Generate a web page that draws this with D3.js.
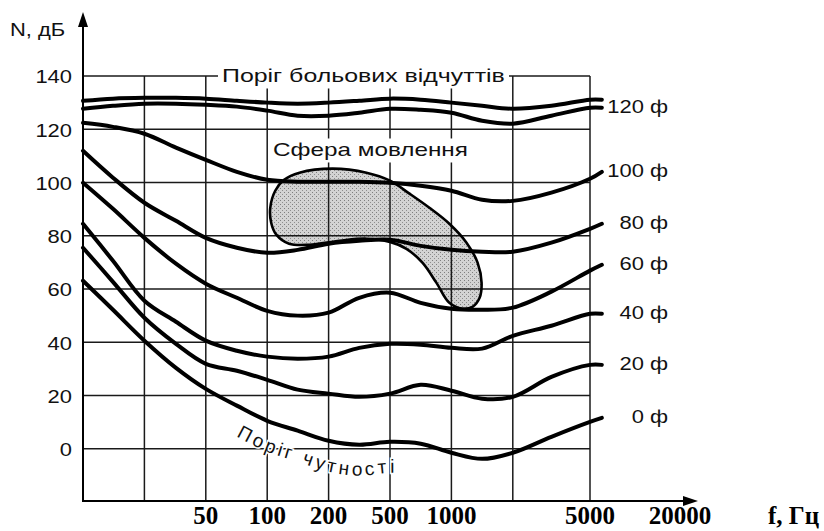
<!DOCTYPE html>
<html>
<head>
<meta charset="utf-8">
<script src="https://cdn.jsdelivr.net/npm/d3@7"></script>
<style>
  body { margin: 0; background: #fff; }
  svg { display: block; }
  .sans { font-family: "Liberation Sans", Arial, sans-serif; fill: #111; }
  .serif { font-family: "Liberation Serif", "Times New Roman", serif; font-weight: bold; fill: #000; }
</style>
</head>
<body>
<svg id="chart" width="824" height="531"></svg>
<script>
const freqs = [20, 25, 31.6, 40, 50, 71, 100, 141, 200, 316, 500, 707, 1000, 1414, 2000, 3162, 5000, 6000];

// levels, dB
const painThreshold = [130.7, 131.5, 131.8, 131.8, 131.5, 130.7, 130.0, 129.6, 130.0, 130.7, 131.5, 131.1, 130.0, 128.8, 127.7, 128.8, 131.1, 131.1];
const phon120 = [127.7, 128.8, 129.6, 129.6, 129.2, 128.5, 127.0, 125.1, 125.1, 126.2, 127.7, 127.3, 126.2, 123.2, 122.1, 125.1, 128.1, 128.1];
const phon100 = [122.4, 120.9, 118.3, 113.1, 108.5, 104.0, 101.0, 100.3, 100.3, 100.3, 99.9, 98.8, 96.9, 93.5, 93.1, 96.2, 101.4, 104.0];
const phon80 = [111.9, 101.8, 92.4, 85.6, 79.2, 75.5, 73.6, 74.7, 77.0, 78.1, 78.5, 76.2, 74.7, 74.0, 74.0, 77.4, 82.6, 84.5];
const phon60 = [99.9, 90.1, 79.2, 69.5, 62.0, 56.7, 51.8, 50.0, 51.1, 56.7, 58.6, 54.8, 52.6, 52.2, 53.0, 59.0, 66.9, 69.1];
const phon40 = [84.5, 70.6, 55.6, 47.7, 40.6, 36.8, 34.6, 33.8, 34.6, 37.9, 39.4, 39.1, 37.9, 37.6, 42.4, 46.2, 50.7, 50.7];
const phon20 = [75.5, 62.7, 49.2, 39.4, 31.9, 29.3, 25.9, 22.2, 20.7, 19.5, 20.7, 24.0, 21.8, 18.8, 19.5, 27.0, 31.5, 31.5];
const phon0 = [63.1, 52.2, 40.6, 30.4, 22.5, 16.2, 10.5, 6.8, 3.0, 1.5, 2.6, 1.9, -1.5, -3.8, -1.5, 4.5, 10.1, 11.6];

// speech area outline, [Hz, dB]
const speechArea = [[103.5, 90.5], [109.5, 96.9], [121, 101.0], [144, 103.7], [212, 105.2], [352, 103.7],
  [500, 100.7], [623, 95.8], [780, 90.5], [977, 84.5], [1186, 77.4], [1344, 69.9], [1406, 62.3],
  [1375, 56.7], [1269, 53.3], [1133, 52.6], [977, 54.8], [845, 62.3], [721, 69.9], [602, 75.1],
  [500, 77.7], [352, 78.9], [236, 78.1], [161, 76.6], [128, 77.0], [110.8, 80.4], [104.6, 84.9]];

const gridFreqs = [31.6, 50, 100, 200, 500, 1000, 2000, 5000];
const freqTicks = [50, 100, 200, 500, 1000, 5000, 20000];
const levelTicks = [0, 20, 40, 60, 80, 100, 120, 140];

const contours = [
  { values: painThreshold, label: null },
  { values: phon120, label: '120 ф' },
  { values: phon100, label: '100 ф' },
  { values: phon80, label: '80 ф' },
  { values: phon60, label: '60 ф' },
  { values: phon40, label: '40 ф' },
  { values: phon20, label: '20 ф' },
  { values: phon0, label: '0 ф' }
];

const svg = d3.select('#chart');
const plotLeft = 83, plotBottom = 502, plotTop = 76, colW = 61.4;

// schematic axis: equal steps between the grid columns
const x = d3.scaleLog()
  .domain([20, 31.6, 50, 100, 200, 500, 1000, 2000, 5000, 20000])
  .range([0, 1, 2, 3, 4, 5, 6, 7].map(i => plotLeft + i * colW).concat([590, 680]));
const y = d3.scaleLinear().domain([-20, 140]).range([plotBottom, plotTop]);
const plotRight = x(5000);

const defs = svg.append('defs');
const pat = defs.append('pattern').attr('id', 'stipple')
  .attr('width', 4).attr('height', 4).attr('patternUnits', 'userSpaceOnUse');
pat.append('rect').attr('width', 4).attr('height', 4).attr('fill', '#d3d3d3');
pat.append('rect').attr('width', 1).attr('height', 1).attr('fill', '#7e7e7e');
pat.append('rect').attr('x', 2).attr('y', 2).attr('width', 1).attr('height', 1).attr('fill', '#8e8e8e');

// speech area fill (grid shows through it)
const blobLine = d3.line().x(d => x(d[0])).y(d => y(d[1])).curve(d3.curveCatmullRomClosed.alpha(0.5));
svg.append('path').attr('d', blobLine(speechArea)).attr('fill', 'url(#stipple)');

// grid
const grid = svg.append('g').attr('stroke', '#1a1a1a').attr('stroke-width', 1.5);
grid.selectAll('.h').data(levelTicks).enter().append('line')
  .attr('x1', plotLeft).attr('x2', plotRight).attr('y1', d => y(d)).attr('y2', d => y(d));
grid.selectAll('.v').data(gridFreqs).enter().append('line')
  .attr('x1', d => x(d)).attr('x2', d => x(d)).attr('y1', y(140)).attr('y2', plotBottom);

// axes with arrows
const axes = svg.append('g').attr('stroke', '#000').attr('stroke-width', 2).attr('fill', 'none');
axes.append('line').attr('x1', plotLeft).attr('x2', plotLeft).attr('y1', plotBottom).attr('y2', 20);
axes.append('line').attr('x1', plotLeft).attr('x2', 690).attr('y1', plotBottom - 1).attr('y2', plotBottom - 1);
svg.append('path').attr('d', `M${plotLeft},12 L${plotLeft - 5},27 L${plotLeft + 5},27 Z`).attr('fill', '#000');
svg.append('path').attr('d', `M698,${plotBottom - 1} L683,${plotBottom - 6} L683,${plotBottom + 4} Z`).attr('fill', '#000');

// speech area outline
svg.append('path').attr('d', blobLine(speechArea))
  .attr('fill', 'none').attr('stroke', '#000').attr('stroke-width', 2.6);

// threshold label follows the 0 ф curve (drawn before the curves)
const under = d3.line().x((d, i) => x(freqs[i])).y(d => y(d) + 31).curve(d3.curveCatmullRom.alpha(0.5));
const tp = defs.append('path').attr('id', 'thrPath').attr('d', under(phon0));
const pNode = tp.node();
let lo = 0, hi = pNode.getTotalLength();
for (let k = 0; k < 40; k++) {
  const mid = (lo + hi) / 2;
  if (pNode.getPointAtLength(mid).x < 236) lo = mid; else hi = mid;
}
svg.append('text').attr('class', 'sans').attr('font-size', 19).attr('letter-spacing', 3.3)
  .attr('stroke', '#fff').attr('stroke-width', 3).attr('paint-order', 'stroke')
  .append('textPath').attr('href', '#thrPath').attr('startOffset', lo)
  .text('Поріг чутності');

// loudness curves
const line = d3.line().x((d, i) => x(freqs[i])).y(d => y(d)).curve(d3.curveCatmullRom.alpha(0.5));
svg.append('g').selectAll('path').data(contours).enter().append('path')
  .attr('d', d => line(d.values))
  .attr('fill', 'none').attr('stroke', '#000').attr('stroke-width', 4)
  .attr('stroke-linecap', 'round').attr('stroke-linejoin', 'round');

// texts
function sansText(tx, ty, str, anchor, sx) {
  return svg.append('text').attr('class', 'sans')
    .attr('transform', `translate(${tx},${ty}) scale(${sx || 1.22},1)`)
    .attr('text-anchor', anchor).attr('dy', '0.36em')
    .attr('font-size', 18).text(str);
}
// label stretched to a given width, with a white box hiding the grid behind it
function masked(tx, ty, str, width) {
  const t = sansText(tx, ty, str, 'start', 1);
  const b = t.node().getBBox();
  const sx = width / b.width;
  t.attr('transform', `translate(${tx},${ty}) scale(${sx},1)`);
  svg.insert('rect', 'text')
    .attr('transform', `translate(${tx},${ty}) scale(${sx},1)`)
    .attr('x', b.x - 4 / sx).attr('y', b.y - 2).attr('width', b.width + 8 / sx).attr('height', b.height + 4)
    .attr('fill', '#fff');
  return t;
}

levelTicks.forEach(v => sansText(72, y(v) + 1, v, 'end'));
sansText(10, 30, 'N, дБ', 'start');

masked(222, y(140), 'Поріг больових відчуттів', 283);
masked(273, 150, 'Сфера мовлення', 195);

contours.filter(c => c.label).forEach(c => {
  sansText(668, y(c.values[c.values.length - 1]) - 1, c.label, 'end');
});

// bottom ticks
svg.append('g').selectAll('text').data(freqTicks).enter().append('text')
  .attr('class', 'serif').attr('font-size', 25)
  .attr('x', d => x(d)).attr('y', 524).attr('text-anchor', 'middle')
  .text(d => d);
svg.append('text').attr('class', 'serif').attr('font-size', 25)
  .attr('x', 768).attr('y', 524).text('f, Гц');
</script>
</body>
</html>
